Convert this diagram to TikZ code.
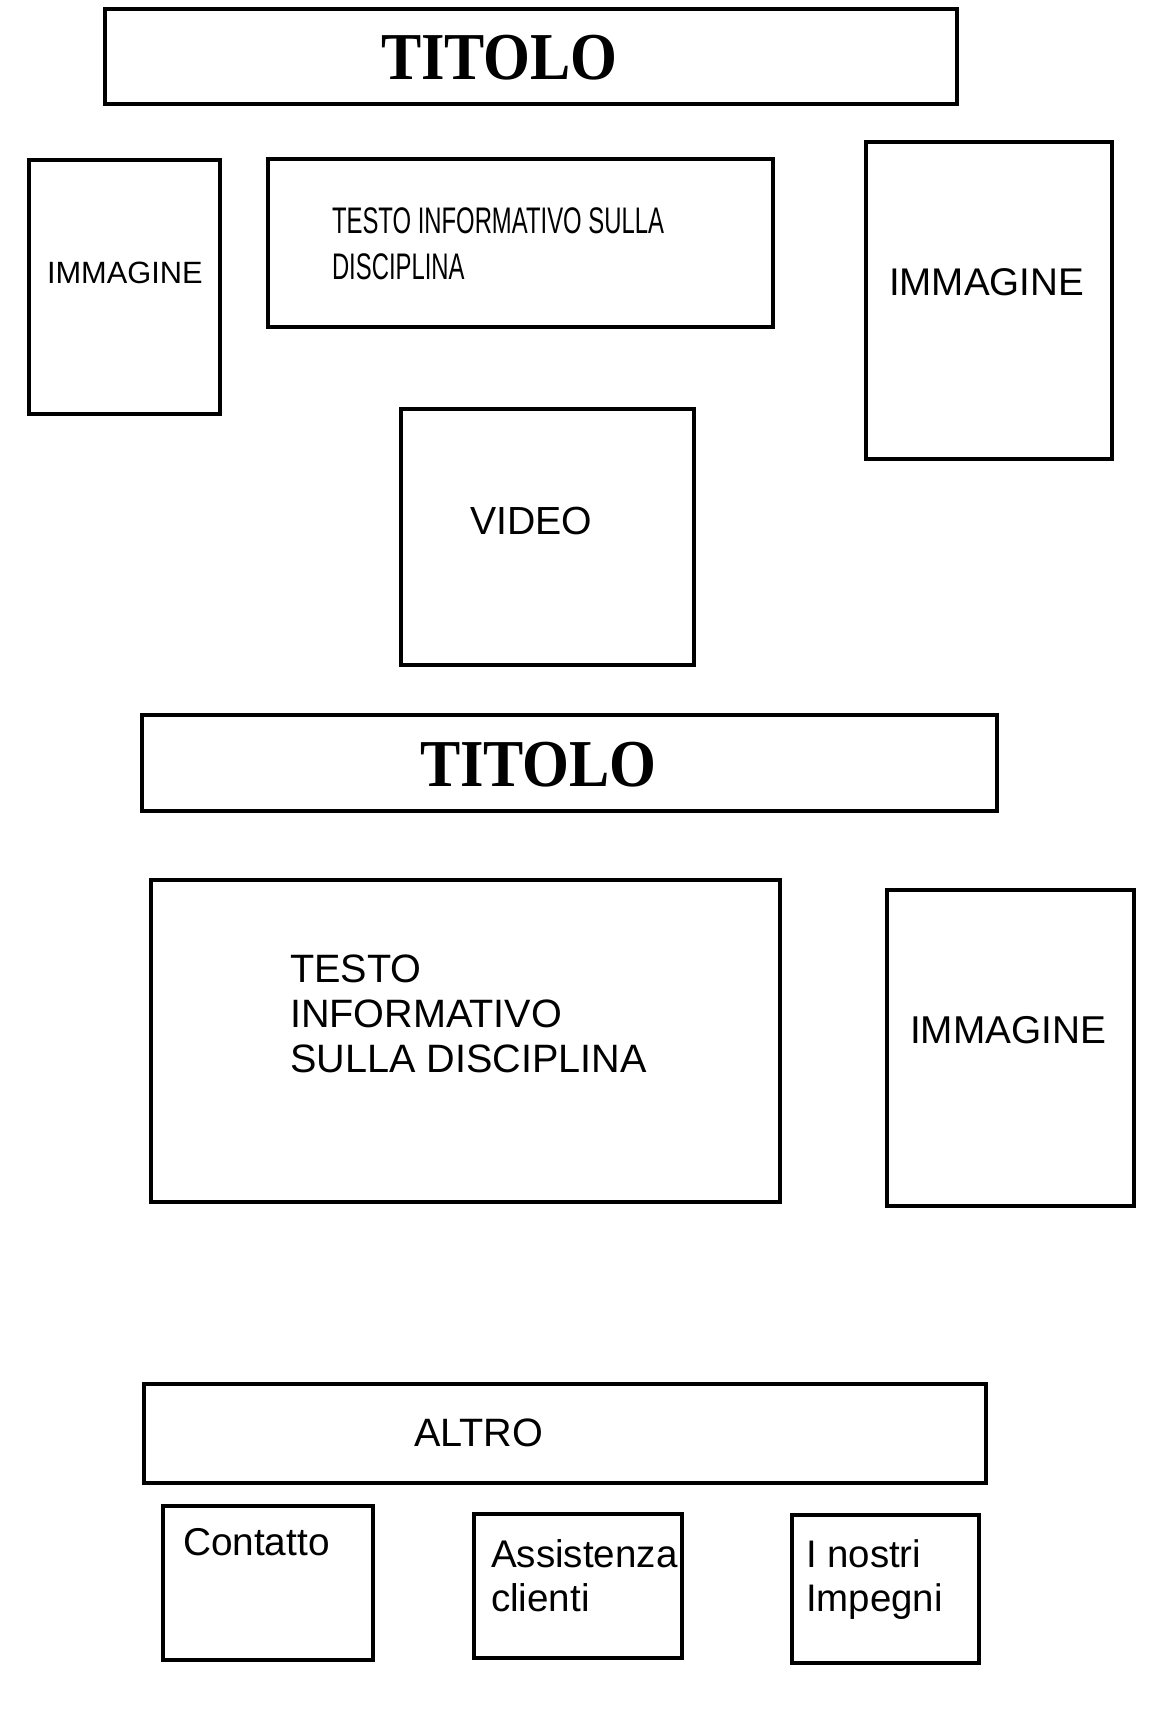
\documentclass[tikz,border=0pt]{standalone}
\usepackage{fontspec}
\usepackage{graphicx}
\usetikzlibrary{fit}
\setmainfont{Liberation Sans}
\newfontfamily\titfont{Liberation Serif}
\newcommand\fsz[1]{\fontsize{#1}{#1}\selectfont}
\tikzset{
  frame/.style={draw=black, line width=2.1pt, rectangle, inner sep=0pt},
  lbl/.style={anchor=base west, inner sep=0pt, outer sep=0pt},
  ttl/.style={lbl, font=\titfont\bfseries\fsz{33.5}},
}
\begin{document}
\begin{tikzpicture}[x=0.5pt,y=-0.5pt]
\useasboundingbox[fill=white] (0,0) rectangle (1158,1732);
% top title
\node[frame, fit={(105,9) (957,104)}] (t1) {};
\node[ttl] (t1txt) at (381,79.5) {\scalebox{0.9}[1]{TITOLO}};
% left image
\node[frame, fit={(29,160) (220,414)}] (im1) {};
\node[lbl, font=\fsz{15.4}] (im1txt) at (47,284) {IMMAGINE};
% text box 1
\node[frame, fit={(268,159) (773,327)}] (tx1) {};
\node[lbl, font=\fsz{18.5}] (tx1a) at (332,234) {\scalebox{0.645}[1]{TESTO INFORMATIVO SULLA}};
\node[lbl, font=\fsz{18.5}] (tx1b) at (332,280) {\scalebox{0.645}[1]{DISCIPLINA}};
% right image
\node[frame, fit={(866,142) (1112,459)}] (im2) {};
\node[lbl, font=\fsz{19.3}] (im2txt) at (889,296) {IMMAGINE};
% video
\node[frame, fit={(401,409) (694,665)}] (vid) {};
\node[lbl, font=\fsz{19.6}] (vidtxt) at (470,534.6) {VIDEO};
% second title
\node[frame, fit={(142,715) (997,811)}] (t2) {};
\node[ttl] (t2txt) at (420,786) {\scalebox{0.9}[1]{TITOLO}};
% text box 2
\node[frame, fit={(151,880) (780,1202)}] (tx2) {};
\node[lbl, font=\fsz{19.8}] (tx2a) at (290,982) {TESTO};
\node[lbl, font=\fsz{19.8}] (tx2b) at (290,1027) {INFORMATIVO};
\node[lbl, font=\fsz{19.8}] (tx2c) at (290,1072) {SULLA DISCIPLINA};
% image 3
\node[frame, fit={(887,890) (1134,1206)}] (im3) {};
\node[lbl, font=\fsz{19.4}] (im3txt) at (910,1043.6) {IMMAGINE};
% altro
\node[frame, fit={(144,1384) (986,1483)}] (alt) {};
\node[lbl, font=\fsz{19.8}] (alttxt) at (414,1446) {ALTRO};
% bottom boxes
\node[frame, fit={(163,1506) (373,1660)}] (con) {};
\node[lbl, font=\fsz{19.4}] (contxt) at (183,1555) {Contatto};
\node[frame, fit={(474,1514) (682,1658)}] (ass) {};
\node[lbl, font=\fsz{19.3}] (assa) at (491,1567) {Assistenza};
\node[lbl, font=\fsz{19.3}] (assb) at (491,1611.5) {clienti};
\node[frame, fit={(792,1515) (979,1663)}] (nos) {};
\node[lbl, font=\fsz{19.2}] (nosa) at (806,1567) {I nostri};
\node[lbl, font=\fsz{19.2}] (nosb) at (806,1611.5) {Impegni};
\end{tikzpicture}
\end{document}
